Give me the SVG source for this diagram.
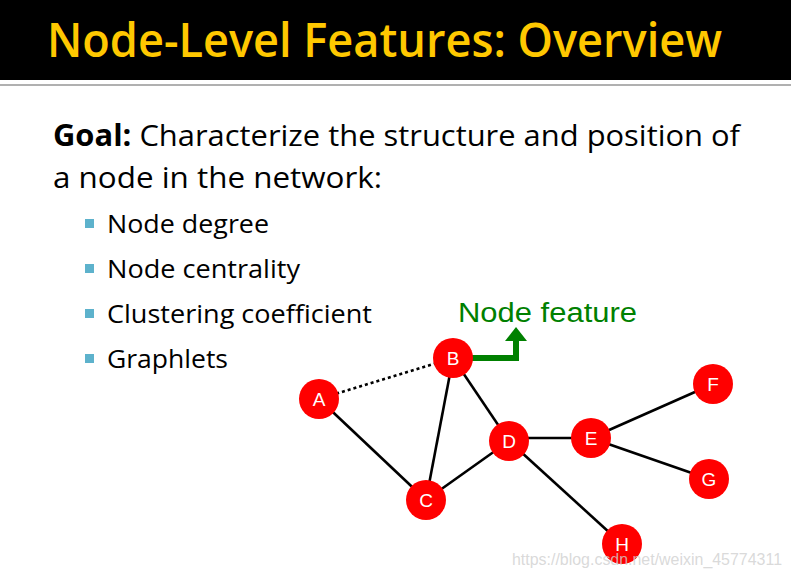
<svg xmlns="http://www.w3.org/2000/svg" width="791" height="579" viewBox="0 0 791 579">
<style>
.title{font-family:"Open Sans","Liberation Sans",sans-serif;font-size:47px;font-weight:600;fill:#FFC800;}
.body{font-family:"Open Sans","Liberation Sans",sans-serif;font-size:30px;fill:#000;}
.bul{font-family:"Open Sans","Liberation Sans",sans-serif;font-size:25px;fill:#000;}
.sq{fill:#5DB2CC;}
.node circle{fill:#FF0000;}
.node text{font-family:"Liberation Sans",Arial,sans-serif;font-size:19px;fill:#fff;text-anchor:middle;}
.edge{stroke:#000;stroke-width:2.6;fill:none;}
</style>
<rect x="0" y="0" width="791" height="579" fill="#fff"/>
<rect x="0" y="0" width="791" height="80" fill="#000"/>
<rect x="0" y="84" width="791" height="2" fill="#b0b0b0"/>
<text class="title" x="47" y="57" textLength="675" lengthAdjust="spacingAndGlyphs">Node-Level Features: Overview</text>
<text class="body" x="53" y="146" textLength="687" lengthAdjust="spacingAndGlyphs"><tspan font-weight="bold">Goal:</tspan> Characterize the structure and position of</text>
<text class="body" x="53" y="188" textLength="329" lengthAdjust="spacingAndGlyphs">a node in the network:</text>
<rect class="sq" x="85" y="219" width="9" height="9"/>
<rect class="sq" x="85" y="264" width="9" height="9"/>
<rect class="sq" x="85" y="309" width="9" height="9"/>
<rect class="sq" x="85" y="354" width="9" height="9"/>
<text class="bul" x="107" y="233" textLength="162" lengthAdjust="spacingAndGlyphs">Node degree</text>
<text class="bul" x="107" y="278" textLength="193" lengthAdjust="spacingAndGlyphs">Node centrality</text>
<text class="bul" x="107" y="323" textLength="265" lengthAdjust="spacingAndGlyphs">Clustering coefficient</text>
<text class="bul" x="107" y="368" textLength="121" lengthAdjust="spacingAndGlyphs">Graphlets</text>
<g id="connectors">
<line class="edge" x1="319" y1="399" x2="453" y2="358" stroke-dasharray="3,3"/>
<line class="edge" x1="319" y1="399" x2="426" y2="500"/>
<line class="edge" x1="453" y1="358" x2="426" y2="500"/>
<line class="edge" x1="453" y1="358" x2="509" y2="441"/>
<line class="edge" x1="426" y1="500" x2="509" y2="441"/>
<line class="edge" x1="509" y1="438" x2="591" y2="438"/>
<line class="edge" x1="509" y1="441" x2="622" y2="544"/>
<line class="edge" x1="591" y1="438" x2="713" y2="384"/>
<line class="edge" x1="591" y1="438" x2="709" y2="479"/>
<polyline points="470,358 516,358 516,338" stroke="#008000" stroke-width="6" fill="none"/>
<polygon points="505,341 527,341 516,327" fill="#008000"/>
</g>
<text x="458" y="322" font-family="Liberation Sans,Arial,sans-serif" font-size="27" fill="#008000" textLength="179" lengthAdjust="spacingAndGlyphs">Node feature</text>
<g id="A" class="node"><circle cx="319" cy="399" r="20"/><text x="319" y="406">A</text></g>
<g id="B" class="node"><circle cx="453" cy="358" r="20"/><text x="453" y="365">B</text></g>
<g id="C" class="node"><circle cx="426" cy="500" r="20"/><text x="426" y="507">C</text></g>
<g id="D" class="node"><circle cx="509" cy="441" r="20"/><text x="509" y="448">D</text></g>
<g id="E" class="node"><circle cx="591" cy="438" r="20"/><text x="591" y="445">E</text></g>
<g id="F" class="node"><circle cx="713" cy="384" r="20"/><text x="713" y="391">F</text></g>
<g id="G" class="node"><circle cx="709" cy="479" r="20"/><text x="709" y="486">G</text></g>
<g id="H" class="node"><circle cx="622" cy="544" r="20"/><text x="622" y="551">H</text></g>
<text x="512" y="565" font-family="Liberation Sans,Arial,sans-serif" font-size="16" fill="#d0d0d0" fill-opacity="0.8" textLength="270" lengthAdjust="spacingAndGlyphs">https://blog.csdn.net/weixin_45774311</text>
</svg>
